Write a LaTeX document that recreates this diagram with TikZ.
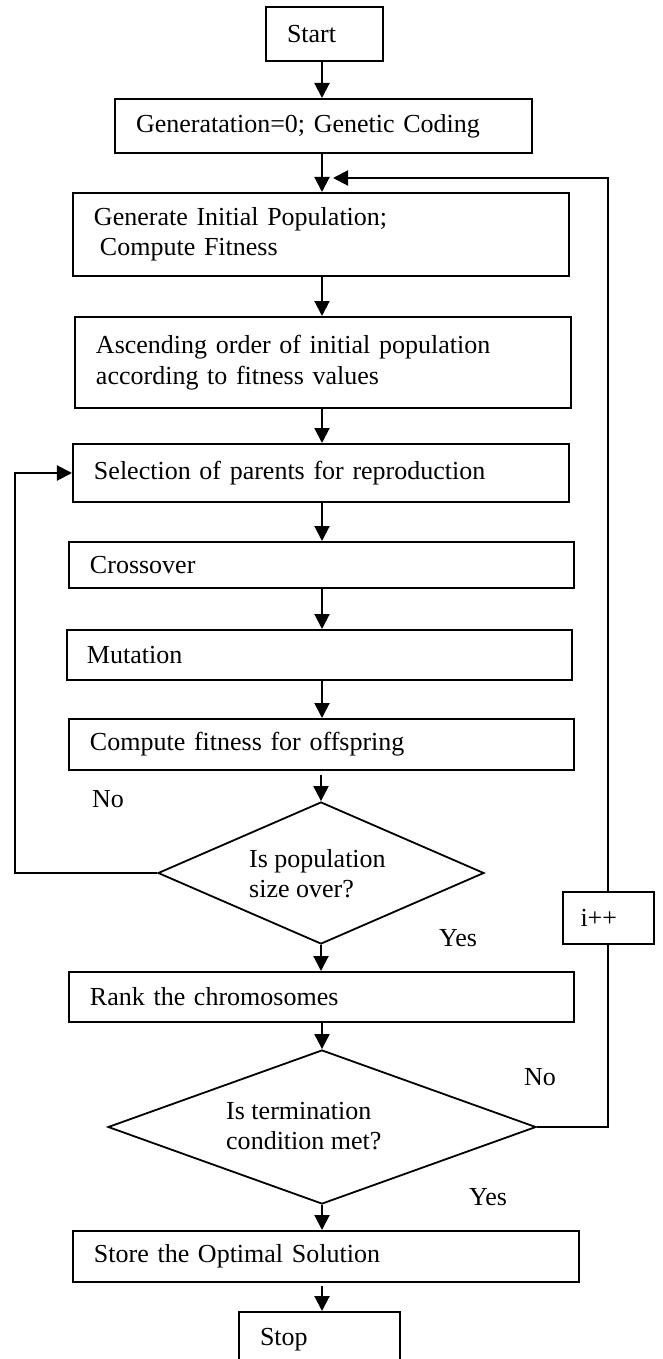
\documentclass[tikz,border=0pt]{standalone}
\usepackage{fontspec}
\setmainfont{Liberation Serif}
\usetikzlibrary{arrows.meta,shapes.geometric,calc}
\tikzset{
  txt/.style={font=\fontsize{26.1}{30.6}\selectfont},
  box/.style={txt, draw, line width=2bp, inner xsep=21bp, inner ysep=0pt, align=left},
  dia/.style={draw, shape=diamond, line width=1.8bp, inner sep=0pt},
  lbl/.style={txt, inner sep=0pt, align=left},
  arr/.style={line width=2bp, -{Triangle[length=15bp,width=15bp]}},
  conn/.style={line width=2bp}
}
\begin{document}
\begin{tikzpicture}[x=1bp,y=-1bp]
\useasboundingbox (0,0) rectangle (663,1359);
\clip (0,0) rectangle (663,1359);
% main column
\node[box, minimum height=54bp, text width=75bp] (start) at (324.5,34) {Start};
\node[box, minimum height=54bp, text width=375bp] (gen0) at (323.5,126) {Generatation=0; Genetic Coding};
\node[box, minimum height=83bp, text width=454bp] (init) at (321,234.5) {Generate Initial Population;\\\hspace*{6bp}Compute Fitness};
\node[box, minimum height=91bp, text width=454bp] (asc) at (323,362.5) {Ascending order of initial population\\according to fitness values};
\node[box, minimum height=58bp, text width=454bp] (sel) at (321,473) {Selection of parents for reproduction};
\node[box, minimum height=46bp, text width=463bp] (cross) at (321.5,565) {Crossover};
\node[box, minimum height=50bp, text width=465bp, inner xsep=20bp] (mut) at (319.5,655) {Mutation};
\node[box, minimum height=51bp, text width=463bp] (fit) at (321.5,744.5) {Compute fitness for offspring};
\node[dia, minimum width=326bp, minimum height=142bp] (dia1) at (321,873) {};
\node[lbl, anchor=west] (dia1t) at (249,873.5) {Is population\\size over?};
\node[box, minimum height=50bp, text width=463bp] (rank) at (321.5,997) {Rank the chromosomes};
\node[dia, minimum width=428bp, minimum height=154bp] (dia2) at (322,1127) {};
\node[lbl, anchor=west] (dia2t) at (226,1126) {Is termination\\condition met?};
\node[box, minimum height=51bp, text width=464bp] (store) at (326,1256.5) {Store the Optimal Solution};
\node[box, minimum height=56bp, text width=119bp] (stop) at (319.5,1340) {Stop};
% side elements
\coordinate (m) at (322,0);
\coordinate (lx) at (15,0);
\coordinate (fb) at (333,178);
\coordinate (fitb) at ($(fit.south)+(0,4)$);
\coordinate (storeb) at ($(store.south)+(0,3)$);
\node[box, minimum height=52bp, text width=55bp, inner xsep=18bp] (ipp) at (608,918) {i++};
% labels
\node[lbl, anchor=west] (no1) at (92,799) {No};
\node[lbl, anchor=west] (yes1) at (439,938) {Yes};
\node[lbl, anchor=west] (no2) at (524,1077) {No};
\node[lbl, anchor=west] (yes2) at (469,1197) {Yes};
% main arrows
\draw[arr] (start.south -| m) -- (gen0.north -| m);
\draw[arr] (gen0.south -| m) -- (init.north -| m);
\draw[arr] (init.south -| m) -- (asc.north -| m);
\draw[arr] (asc.south -| m) -- (sel.north -| m);
\draw[arr] (sel.south -| m) -- (cross.north -| m);
\draw[arr] (cross.south -| m) -- (mut.north -| m);
\draw[arr] (mut.south -| m) -- (fit.north -| m);
\draw[arr] (fitb -| dia1.north) -- (dia1.north);
\draw[arr] (dia1.south) -- (rank.north -| dia1.south);
\draw[arr] (rank.south -| dia2.north) -- (dia2.north);
\draw[arr] (dia2.south) -- (store.north -| dia2.south);
\draw[arr] (storeb -| m) -- (stop.north -| m);
% No loop (left)
\draw[arr] (dia1.west) -- (dia1.west -| lx) |- (sel.west);
% No loop (right) through i++
\draw[conn] (dia2.east) -- (dia2.east -| ipp.south) -- (ipp.south);
\draw[arr] (ipp.north) -- (ipp.north |- fb) -- (fb);
\end{tikzpicture}
\end{document}
